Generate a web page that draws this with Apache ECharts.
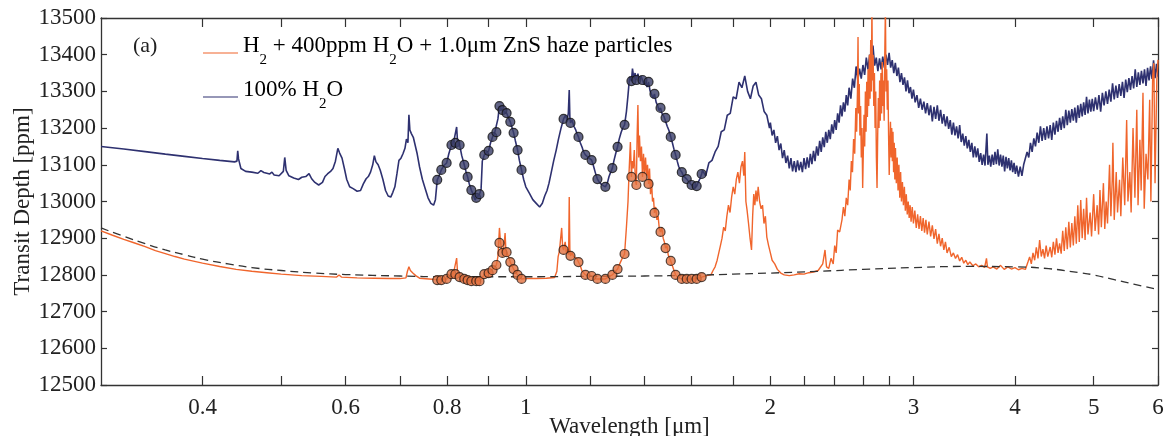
<!DOCTYPE html>
<html><head><meta charset="utf-8">
<script src="https://cdn.jsdelivr.net/npm/echarts@6/dist/echarts.min.js"></script>
<style>html,body{margin:0;padding:0;background:#fff}#chart{width:1167px;height:436px}</style>
</head><body><div id="chart"></div>
<script>
// ---- data ----
const nameHaze = 'H2 + 400ppm H2O + 1.0μm ZnS haze particles';
const nameH2o = '100% H2O';

const h2oSpectrum = [[0.300,13150],[0.320,13143],[0.340,13136],[0.360,13129],[0.380,13123],[0.400,13117],[0.420,13112],[0.438,13108],[0.441,13110],[0.442,13138],[0.443,13116],[0.446,13090],[0.452,13082],[0.460,13080],[0.468,13077],[0.472,13084],[0.476,13079],[0.484,13075],[0.487,13080],[0.490,13072],[0.497,13070],[0.503,13082],[0.505,13120],[0.507,13085],[0.511,13070],[0.518,13064],[0.525,13060],[0.530,13066],[0.536,13068],[0.541,13076],[0.545,13062],[0.550,13052],[0.556,13045],[0.562,13052],[0.566,13068],[0.570,13075],[0.575,13082],[0.579,13090],[0.583,13110],[0.587,13145],[0.590,13132],[0.594,13118],[0.598,13090],[0.602,13060],[0.607,13040],[0.613,13035],[0.620,13028],[0.626,13030],[0.631,13048],[0.636,13062],[0.640,13068],[0.644,13080],[0.648,13100],[0.651,13125],[0.654,13108],[0.658,13100],[0.662,13085],[0.667,13060],[0.672,13030],[0.677,13015],[0.682,13012],[0.686,13025],[0.690,13040],[0.694,13075],[0.698,13112],[0.702,13118],[0.706,13130],[0.710,13145],[0.713,13170],[0.716,13160],[0.718,13236],[0.720,13195],[0.723,13185],[0.727,13175],[0.731,13170],[0.735,13130],[0.740,13094],[0.746,13060],[0.752,13035],[0.758,13010],[0.764,12995],[0.770,12990],[0.774,13005],
[0.778,13059],[0.782,13070],[0.787,13086],[0.793,13098],[0.799,13105],[0.804,13130],[0.810,13154],[0.815,13162],[0.819,13160],[0.822,13203],[0.824,13165],[0.829,13154],[0.834,13125],[0.840,13100],[0.844,13082],[0.848,13067],[0.852,13048],[0.857,13031],[0.862,13018],[0.866,13004],[0.869,13010],[0.873,13015],[0.877,13020],[0.881,13035],[0.884,13110],[0.889,13127],[0.894,13132],[0.900,13138],[0.905,13160],[0.910,13176],[0.915,13185],[0.920,13189],[0.924,13225],[0.928,13260],[0.932,13252],[0.936,13249],[0.941,13244],[0.947,13241],[0.952,13228],[0.957,13217],[0.961,13204],[0.966,13187],[0.971,13165],[0.977,13140],[0.982,13112],[0.988,13086],[0.994,13060],[1.000,13040],
[1.010,13023],[1.020,13005],[1.030,12995],[1.040,12985],[1.048,12995],[1.055,13015],[1.062,13030],[1.068,13050],[1.075,13080],[1.082,13110],[1.090,13140],[1.097,13170],[1.105,13200],
[1.113,13225],[1.119,13235],[1.124,13222],[1.128,13240],[1.131,13304],[1.133,13230],[1.135,13214],[1.140,13222],[1.146,13205],[1.152,13195],[1.156,13185],[1.161,13176],[1.167,13160],[1.173,13148],[1.178,13135],[1.184,13127],[1.190,13122],[1.196,13118],[1.205,13113],[1.211,13098],[1.218,13078],[1.225,13061],[1.232,13052],[1.240,13046],[1.247,13050],[1.253,13040],[1.260,13050],[1.266,13068],[1.272,13080],[1.278,13091],[1.284,13112],[1.290,13130],[1.297,13149],[1.303,13170],[1.310,13188],[1.316,13200],[1.323,13209],[1.330,13245],[1.336,13290],[1.342,13340],[1.349,13328],[1.353,13362],[1.358,13336],[1.363,13350],[1.368,13331],[1.374,13348],[1.380,13328],[1.386,13342],[1.392,13331],[1.398,13318],[1.404,13330],[1.410,13312],[1.416,13326],[1.422,13302],[1.428,13298],[1.434,13282],[1.440,13293],[1.447,13270],[1.453,13262],[1.459,13248],[1.465,13255],[1.472,13238],[1.479,13232],[1.486,13228],[1.493,13205],[1.500,13194],[1.508,13176],[1.515,13160],[1.522,13142],[1.529,13127],[1.536,13110],[1.542,13096],[1.549,13086],[1.556,13080],[1.563,13070],[1.570,13066],[1.578,13061],[1.585,13055],[1.592,13050],[1.600,13045],[1.608,13040],[1.615,13036],[1.623,13042],[1.630,13052],[1.638,13062],[1.646,13075],
[1.650,13085],[1.665,13070],[1.680,13105],[1.695,13112],[1.710,13135],[1.725,13150],[1.740,13190],[1.755,13195],[1.770,13235],[1.785,13240],[1.800,13285],[1.815,13280],[1.830,13325],[1.845,13310],[1.860,13342],[1.875,13300],[1.890,13280],[1.905,13315],[1.920,13325],[1.935,13290],[1.950,13280],[1.965,13245],[1.980,13235],[1.995,13200],
[2.00,13215],[2.01,13180],[2.02,13195],[2.03,13160],[2.04,13178],[2.05,13140],[2.06,13158],[2.07,13118],[2.08,13140],[2.09,13105],[2.10,13125],[2.11,13090],[2.12,13118],[2.13,13082],[2.14,13110],[2.15,13080],[2.16,13112],[2.17,13085],[2.18,13108],[2.19,13080],[2.20,13118],[2.21,13088],[2.22,13120],[2.23,13092],[2.24,13130],[2.25,13102],[2.26,13138],[2.27,13110],[2.28,13150],[2.29,13125],[2.30,13165],[2.31,13135],[2.32,13175],[2.33,13148],[2.34,13190],[2.35,13160],[2.36,13195],[2.37,13170],[2.38,13210],[2.39,13185],[2.40,13222],[2.41,13195],[2.42,13240],[2.43,13215],[2.44,13262],[2.45,13232],[2.46,13270],[2.47,13245],[2.48,13290],[2.49,13262],[2.50,13310],[2.5125,13280],[2.525,13335],[2.5375,13310],[2.55,13368],[2.5625,13330],[2.575,13362],[2.5875,13335],[2.60,13372],[2.6125,13345],[2.625,13392],[2.6375,13360],[2.65,13400],[2.6625,13375],[2.675,13425],[2.6875,13370],[2.70,13392],[2.7125,13355],[2.725,13390],[2.7375,13360],[2.75,13395],[2.7625,13365],[2.775,13400],[2.7875,13372],[2.80,13405],[2.8125,13365],[2.825,13385],[2.8375,13350],[2.85,13378],[2.8625,13342],[2.875,13365],[2.8875,13325],[2.90,13350],[2.9125,13318],[2.925,13338],[2.9375,13300],[2.95,13330],[2.9625,13295],[2.975,13312],[2.9875,13280],
[3.000,13305],[3.015,13270],[3.030,13290],[3.045,13255],[3.060,13280],[3.075,13250],[3.090,13272],[3.105,13240],[3.120,13268],[3.135,13235],[3.150,13262],[3.165,13218],[3.180,13258],[3.195,13225],[3.210,13262],[3.225,13220],[3.240,13250],[3.255,13212],[3.270,13238],[3.285,13205],[3.300,13232],[3.315,13198],[3.330,13222],[3.345,13182],[3.360,13215],[3.375,13180],[3.390,13205],[3.405,13172],[3.420,13208],[3.435,13162],[3.450,13185],[3.465,13152],[3.480,13178],[3.495,13145],[3.510,13168],[3.525,13135],[3.540,13160],[3.555,13120],[3.570,13150],[3.585,13120],[3.600,13145],[3.615,13108],[3.630,13132],[3.645,13100],[3.660,13128],[3.675,13098],[3.694,13185],[3.705,13100],[3.720,13125],[3.735,13095],[3.750,13128],[3.765,13100],[3.780,13135],[3.795,13102],[3.810,13142],[3.825,13098],[3.840,13128],[3.855,13095],[3.870,13125],[3.885,13082],[3.900,13122],[3.915,13090],[3.930,13118],[3.945,13085],[3.960,13112],[3.975,13080],[3.990,13105],
[4.005,13075],[4.020,13098],[4.040,13068],[4.060,13095],[4.080,13070],[4.100,13100],[4.120,13095],[4.140,13135],[4.160,13120],[4.180,13160],[4.200,13135],[4.220,13172],[4.240,13150],[4.260,13188],[4.280,13160],[4.300,13205],[4.320,13165],[4.340,13200],[4.360,13168],[4.380,13205],[4.400,13172],[4.420,13208],[4.440,13168],[4.460,13215],[4.480,13182],[4.500,13220],[4.520,13190],[4.540,13228],[4.560,13195],[4.580,13232],[4.600,13200],[4.620,13250],[4.640,13208],[4.660,13248],[4.680,13215],[4.700,13252],[4.720,13220],[4.740,13256],[4.760,13215],[4.780,13262],[4.800,13228],[4.820,13266],[4.840,13232],[4.860,13270],[4.880,13236],[4.900,13285],[4.920,13240],[4.940,13278],[4.960,13245],[4.980,13280],
[5.000,13246],[5.025,13284],[5.050,13250],[5.075,13290],[5.100,13245],[5.125,13296],[5.150,13262],[5.175,13300],[5.200,13266],[5.225,13305],[5.250,13272],[5.275,13322],[5.300,13278],[5.325,13316],[5.350,13282],[5.375,13320],[5.400,13288],[5.425,13326],[5.450,13282],[5.475,13332],[5.500,13298],[5.525,13336],[5.550,13304],[5.575,13342],[5.600,13308],[5.625,13360],[5.650,13312],[5.675,13352],[5.700,13318],[5.725,13356],[5.750,13322],[5.775,13360],[5.800,13315],[5.825,13364],[5.850,13330],[5.875,13368],[5.900,13334],[5.925,13385],[5.950,13336],[5.975,13375],[6.000,13340]];

const hazeSpectrum = [[0.300,12920],[0.310,12908],[0.320,12897],[0.330,12887],[0.340,12877],[0.350,12866],[0.360,12858],[0.370,12850],[0.380,12843],[0.400,12832],[0.420,12823],[0.440,12815],[0.460,12810],[0.480,12806],[0.500,12802],[0.530,12798],[0.560,12796],[0.585,12794],[0.589,12800],[0.593,12794],[0.620,12792],[0.650,12791],[0.680,12790],[0.700,12790],[0.712,12792],[0.715,12810],[0.718,12822],[0.721,12812],[0.726,12805],[0.732,12798],[0.740,12791],[0.760,12789],
[0.778,12787],[0.787,12787],[0.799,12789],[0.805,12795],[0.810,12802],[0.815,12806],[0.819,12802],[0.822,12846],[0.824,12808],[0.829,12796],[0.834,12792],[0.840,12789],[0.848,12786],[0.857,12784],[0.869,12784],[0.877,12784],[0.883,12790],[0.889,12802],[0.895,12806],[0.900,12805],[0.905,12810],[0.910,12813],[0.915,12820],[0.920,12827],[0.924,12850],[0.928,12928],[0.931,12887],[0.934,12870],[0.936,12860],[0.940,12880],[0.943,12914],[0.945,12870],[0.947,12862],[0.952,12850],[0.957,12835],[0.961,12825],[0.966,12816],[0.971,12808],[0.977,12800],[0.988,12789],[1.000,12790],[1.030,12790],[1.060,12791],[1.085,12793],
[1.092,12810],[1.096,12850],[1.100,12865],[1.104,12862],[1.107,12928],[1.110,12875],[1.113,12868],[1.118,12890],[1.122,12860],[1.126,12870],[1.129,12855],[1.131,13012],[1.133,12870],[1.135,12852],[1.140,12860],[1.145,12850],[1.150,12848],[1.155,12845],[1.161,12835],[1.167,12825],[1.173,12810],[1.178,12805],[1.184,12800],[1.195,12798],[1.205,12797],[1.215,12790],[1.225,12789],[1.240,12789],[1.253,12789],[1.265,12795],[1.278,12800],[1.290,12810],[1.297,12816],[1.305,12830],[1.314,12845],[1.323,12857],
[1.330,12930],[1.336,13000],[1.340,13080],[1.345,13162],[1.349,13067],[1.352,13110],[1.356,13090],[1.360,13140],[1.364,13060],[1.368,13045],[1.371,13180],[1.374,13263],[1.377,13120],[1.380,13180],[1.384,13110],[1.388,13150],[1.392,13067],[1.396,13130],[1.400,13075],[1.404,13120],[1.408,13070],[1.412,13100],[1.416,13048],[1.420,13090],[1.424,13020],[1.428,13060],[1.432,13000],[1.436,13010],[1.440,12969],[1.445,12985],[1.450,12950],[1.455,12960],[1.460,12925],[1.465,12917],[1.470,12930],[1.476,12900],[1.481,12890],[1.486,12873],[1.492,12880],[1.497,12855],[1.502,12850],[1.508,12838],[1.515,12825],[1.522,12812],[1.529,12800],[1.540,12793],[1.556,12789],[1.578,12789],[1.600,12789],[1.623,12790],[1.646,12794],[1.670,12798],
[1.690,12800],[1.700,12812],[1.710,12822],[1.720,12840],[1.728,12860],[1.736,12880],[1.744,12900],[1.752,12930],[1.760,12920],[1.768,12960],[1.776,12990],[1.784,12970],[1.792,13012],[1.800,13040],[1.808,13020],[1.816,13060],[1.824,13080],[1.832,13050],[1.840,13094],[1.848,13110],[1.855,13070],[1.860,13135],[1.866,13000],[1.872,12977],[1.880,12940],[1.888,12900],[1.896,12868],[1.902,12960],[1.908,13020],[1.914,12990],[1.920,13030],[1.926,13000],[1.932,13040],[1.940,13000],[1.948,12980],[1.956,12990],[1.964,12940],[1.972,12960],[1.980,12903],[1.990,12880],[2.000,12860],[2.010,12840],[2.025,12830],[2.040,12815],[2.060,12805],[2.080,12800],[2.110,12798],[2.140,12800],[2.170,12803],[2.200,12802],[2.230,12806],[2.260,12808],[2.290,12812],
[2.300,12815],[2.320,12830],[2.335,12868],[2.345,12822],[2.360,12818],[2.375,12845],[2.390,12830],[2.400,12880],[2.410,12860],[2.420,12922],[2.434,12917],[2.450,12950],[2.460,12985],[2.470,12960],[2.480,13010],[2.490,12990],[2.500,13060],[2.508,13030],[2.516,13110],[2.524,13080],[2.532,13170],[2.540,13130],[2.548,13255],[2.554,13190],[2.560,13300],[2.564,13448],[2.568,13240],[2.573,13320],[2.578,13180],[2.583,13260],[2.588,13120],[2.593,13200],[2.598,13037],[2.603,13140],[2.608,13236],[2.613,13150],[2.618,13300],[2.623,13190],[2.628,13326],[2.633,13230],[2.638,13360],[2.643,13260],[2.648,13400],[2.653,13280],[2.658,13440],[2.663,13300],[2.667,13540],[2.671,13330],[2.676,13400],[2.681,13260],[2.686,13350],[2.691,13200],[2.696,13300],[2.701,13120],[2.706,13037],[2.711,13180],[2.716,13282],[2.721,13200],[2.726,13330],[2.731,13220],[2.736,13350],[2.741,13240],[2.746,13380],[2.751,13260],[2.756,13330],[2.761,13220],[2.766,13400],[2.771,13530],[2.776,13300],[2.781,13360],[2.786,13250],[2.791,13330],[2.796,13180],[2.801,13072],[2.806,13160],[2.811,13217],[2.816,13120],[2.821,13200],[2.826,13110],[2.831,13190],[2.836,13080],[2.841,13160],[2.846,13060],[2.851,13146],[2.858,13050],[2.865,13120],[2.872,13030],[2.879,13100],[2.886,13010],[2.893,13080],[2.900,13000],[2.908,13053],[2.916,12990],[2.924,13040],[2.932,12975],[2.940,13020],[2.948,12965],[2.956,13000],[2.964,12955],[2.972,12990],[2.980,12945],[2.990,12985],[3.000,12940],[3.012,12975],[3.024,12928],[3.036,12965],[3.048,12925],[3.060,12960],[3.072,12920],[3.084,12955],[3.096,12915],[3.108,12950],[3.120,12910],[3.135,12945],[3.150,12905],[3.165,12935],[3.180,12898],[3.195,12925],[3.210,12885],[3.225,12912],[3.240,12878],[3.255,12900],[3.270,12868],[3.285,12890],[3.300,12860],[3.320,12875],[3.340,12850],[3.360,12860],[3.380,12845],[3.400,12855],[3.420,12838],[3.440,12848],[3.460,12832],[3.480,12840],[3.500,12828],[3.520,12835],[3.550,12825],[3.580,12830],[3.610,12822],[3.640,12826],[3.670,12820],[3.690,12845],[3.700,12822],[3.730,12818],
[3.760,12822],[3.800,12816],[3.840,12826],[3.880,12815],[3.920,12822],[3.960,12816],[4.000,12820],[4.040,12814],[4.080,12818],[4.120,12815],[4.150,12835],[4.170,12849],[4.190,12830],[4.210,12860],[4.230,12840],[4.250,12875],[4.270,12845],[4.290,12895],[4.310,12850],[4.330,12870],[4.350,12845],[4.370,12880],[4.390,12850],[4.420,12876],[4.440,12848],[4.460,12890],[4.480,12855],[4.500,12900],[4.520,12860],[4.540,12886],[4.560,12858],[4.580,12920],[4.600,12865],[4.620,12930],[4.640,12870],[4.660,12945],[4.680,12875],[4.700,12941],[4.720,12880],[4.740,12960],[4.760,12885],[4.780,12990],[4.800,12890],[4.820,13004],[4.840,12900],[4.860,12980],[4.880,12895],[4.900,13010],[4.920,12910],[4.950,12970],[4.970,12905],[5.000,13020],[5.020,12920],[5.050,12990],[5.070,12910],[5.090,13031],[5.110,12930],[5.140,13050],[5.160,12925],[5.180,13000],[5.200,12940],[5.230,13100],[5.250,12960],[5.270,13060],[5.280,13160],[5.300,12950],[5.330,13080],[5.350,12970],[5.380,13059],[5.400,12960],[5.430,13120],[5.460,12990],[5.490,13222],[5.510,13000],[5.540,13080],[5.560,12970],[5.590,13200],[5.620,13010],[5.650,13250],[5.670,12990],[5.700,13168],[5.720,13030],[5.750,13296],[5.770,12980],[5.800,13130],[5.830,13060],[5.860,13277],[5.880,13000],[5.910,13340],[5.930,13377],[5.950,13050],[5.980,13331],[6.000,13386]];

const continuumCurve = [[0.30,12928],[0.32,12905],[0.34,12885],[0.36,12868],[0.38,12855],[0.40,12843],[0.43,12830],[0.46,12820],[0.50,12812],[0.55,12805],[0.60,12801],[0.70,12797],[0.80,12795],[0.90,12795],[1.00,12795],[1.20,12796],[1.40,12797],[1.60,12799],[1.80,12802],[2.00,12805],[2.30,12810],[2.60,12815],[3.00,12820],[3.50,12823],[4.00,12822],[4.40,12817],[4.80,12806],[5.00,12800],[5.30,12787],[5.60,12775],[6.00,12760]];

const binWavelengths = [0.778,0.787,0.799,0.810,0.819,0.829,0.840,0.848,0.857,0.869,0.877,0.889,0.900,0.910,0.920,0.928,0.936,0.947,0.957,0.966,0.977,0.988,1.113,1.135,1.161,1.184,1.205,1.225,1.253,1.278,1.297,1.323,1.349,1.368,1.392,1.416,1.440,1.465,1.486,1.508,1.529,1.556,1.578,1.600,1.623,1.646];
const binH2o = [13059,13086,13105,13154,13160,13154,13100,13067,13031,13010,13020,13127,13138,13176,13189,13260,13249,13241,13217,13187,13140,13086,13225,13214,13176,13127,13113,13061,13040,13091,13149,13209,13328,13331,13331,13326,13293,13255,13228,13176,13127,13080,13061,13045,13042,13075];
const binHaze = [12786,12786,12789,12802,12802,12794,12789,12786,12783,12783,12783,12802,12805,12813,12827,12887,12860,12862,12835,12816,12800,12789,12868,12852,12835,12800,12797,12789,12789,12800,12816,12857,13067,13045,13067,13048,12969,12917,12873,12838,12800,12789,12789,12789,12789,12794];

const xTickValues = [0.4,0.5,0.6,0.7,0.8,0.9,1,1.2,1.4,1.6,1.8,2,2.2,2.4,2.6,2.8,3,4,5,6];
const xLabelValues = [0.4,0.6,0.8,1,2,3,4,5,6];

// ---- chart ----
const serif = 'Liberation Serif';
const axisCol = '#333';
const txtCol = '#222';
const orange = '#f0652c';
const navy = '#2e3170';
const chart = echarts.init(document.getElementById('chart'));
const binPairs = (vals) => binWavelengths.map((w, i) => [w, vals[i]]);

const xBase = {
  type: 'log', logBase: 10, min: 0.3, max: 6,
  axisLine: { show: true, lineStyle: { color: axisCol, width: 1.3 } },
  splitLine: { show: false }, minorTick: { show: false },
};
const yBase = {
  type: 'value', min: 12500, max: 13500, interval: 100,
  axisLine: { show: true, lineStyle: { color: axisCol, width: 1.3 } },
  splitLine: { show: false },
};
const richText = {
  n: { fontFamily: serif, fontSize: 23, color: txtCol },
  s: { fontFamily: serif, fontSize: 15, color: txtCol, padding: [28, 0, 0, 0] },
};

chart.setOption({
  animation: false,
  backgroundColor: '#fff',
  grid: { left: 101, right: 9, top: 18, bottom: 51, containLabel: false, outerBoundsMode: 'none' },
  xAxis: [
    Object.assign({}, xBase, {
      position: 'bottom',
      name: 'Wavelength [μm]', nameLocation: 'middle', nameGap: 30, nameMoveOverlap: false,
      nameTextStyle: { fontFamily: serif, fontSize: 23, color: txtCol },
      axisTick: { show: true, inside: true, length: 9, customValues: xTickValues, lineStyle: { color: axisCol, width: 1.2 } },
      axisLabel: { show: true, customValues: xLabelValues, margin: 11, fontFamily: serif, fontSize: 23, color: txtCol,
        formatter: v => String(+Number(v).toFixed(2)) },
    }),
    Object.assign({}, xBase, {
      position: 'top',
      axisTick: { show: true, inside: true, length: 9, customValues: xTickValues, lineStyle: { color: axisCol, width: 1.2 } },
      axisLabel: { show: false },
    }),
  ],
  yAxis: [
    Object.assign({}, yBase, {
      position: 'left',
      name: 'Transit Depth [ppm]', nameLocation: 'middle', nameGap: 67, nameMoveOverlap: false,
      nameTextStyle: { fontFamily: serif, fontSize: 23, color: txtCol },
      axisTick: { show: true, inside: true, length: 6, lineStyle: { color: axisCol, width: 1.2 } },
      axisLabel: { show: true, margin: 5, fontFamily: serif, fontSize: 23, color: txtCol, formatter: v => String(v) },
    }),
    Object.assign({}, yBase, {
      position: 'right',
      axisTick: { show: true, inside: true, length: 6, lineStyle: { color: axisCol, width: 1.2 } },
      axisLabel: { show: false },
    }),
  ],
  graphic: [
    { type: 'text', x: 133, y: 46, style: { text: '(a)', fontFamily: serif, fontSize: 22, fill: txtCol, verticalAlign: 'middle' } },
    { type: 'line', shape: { x1: 203, y1: 53, x2: 238, y2: 53 }, style: { stroke: orange, lineWidth: 1.2 } },
    { type: 'text', x: 243, y: 46, style: { text: '{n|H}{s|2}{n| + 400ppm H}{s|2}{n|O + 1.0μm ZnS haze particles}', rich: richText, verticalAlign: 'middle' } },
    { type: 'line', shape: { x1: 203, y1: 97, x2: 238, y2: 97 }, style: { stroke: navy, lineWidth: 1.2 } },
    { type: 'text', x: 243, y: 90, style: { text: '{n|100% H}{s|2}{n|O}', rich: richText, verticalAlign: 'middle' } },
  ],
  series: [
    { name: nameH2o, type: 'line', data: h2oSpectrum, symbol: 'none', showSymbol: false,
      lineStyle: { color: navy, width: 1.6 }, itemStyle: { color: navy }, z: 2 },
    { name: nameHaze, type: 'line', data: hazeSpectrum, symbol: 'none', showSymbol: false,
      lineStyle: { color: orange, width: 1.4 }, itemStyle: { color: orange }, z: 3 },
    { name: 'haze continuum', type: 'line', data: continuumCurve, symbol: 'none', showSymbol: false, smooth: true,
      lineStyle: { color: '#333', width: 1.3, type: [8, 5] }, z: 4 },
    { name: 'binned H2O', type: 'scatter', data: binPairs(binH2o), symbol: 'circle', symbolSize: 9,
      itemStyle: { color: '#3a3d68', borderColor: '#111', borderWidth: 1.2 }, z: 5 },
    { name: 'binned haze', type: 'scatter', data: binPairs(binHaze), symbol: 'circle', symbolSize: 9,
      itemStyle: { color: '#e2703e', borderColor: '#2a1c14', borderWidth: 1.2 }, z: 5 },
  ],
});
</script>
</body></html>
